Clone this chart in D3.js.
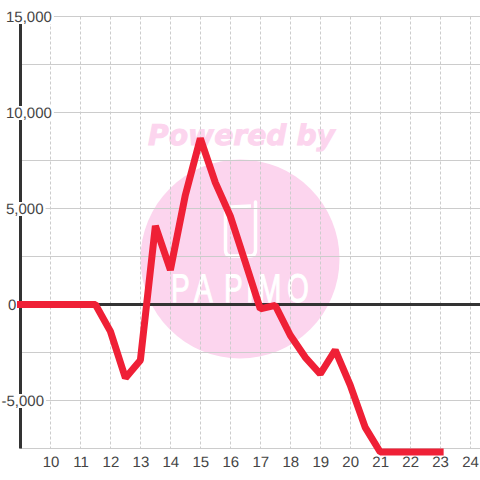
<!DOCTYPE html>
<html lang="en">
  <head>
    <meta charset="UTF-8" />
    <title>Chart</title>
    <style>
  html, body { margin: 0; padding: 0; background: #fff; }
  svg { display: block; }
  text { font-family: "Liberation Sans", sans-serif; text-rendering: geometricPrecision; }
</style>
  </head>
  <body>
<div class="chart"></div>
<script src="https://cdn.jsdelivr.net/npm/d3@7"></script>
<script>

// half hour steps
var hours = [9, 9.5, 10, 10.5, 11, 11.5, 12, 12.5, 13, 13.5, 14, 14.5, 15, 15.5, 16, 16.5, 17, 17.5, 18, 18.5, 19, 19.5, 20, 20.5, 21, 21.5, 22, 22.5, 23];
var values = [0, 0, 0, 0, 0, 0, -1400, -3830, -2900, 4090, 1800, 5700, 8650, 6350, 4600, 2200, -230, -50, -1600, -2750, -3620, -2370, -4200, -6400, -7680, -7680, -7680, -7680, -7680];

var xTicks = [10, 11, 12, 13, 14, 15, 16, 17, 18, 19, 20, 21, 22, 23, 24];
var yMajor = [15000, 10000, 5000, 0, -5000];
var yMinor = [12500, 7500, 2500, -2500, -7500];

var width = 480;
var height = 480;

var x = d3.scaleLinear().domain([9, 24.33]).range([20.5, 480]);
var y = d3.scaleLinear().domain([-7500, 15000]).range([448.5, 16.5]);

var svg = d3.select(".chart")
  .append("svg")
  .attr("width", width)
  .attr("height", height);

// watermark
var mark = svg.append("g").attr("id", "watermark");
mark.append("circle")
  .attr("cx", 240)
  .attr("cy", 259)
  .attr("r", 99.5)
  .attr("fill", "#fcd5ee");
mark.append("text")
  .attr("x", 148)
  .attr("y", 144.5)
  .attr("font-size", 28.5)
  .attr("font-weight", "bold")
  .attr("font-style", "italic")
  .attr("textLength", 187)
  .attr("lengthAdjust", "spacingAndGlyphs")
  .style("font-family", "DejaVu Sans")
  .attr("fill", "#fcd5ee")
  .attr("stroke", "#fcd5ee")
  .attr("stroke-width", 0.9)
  .text("Powered by");
mark.append("path")
  .attr("d", "M225.5 213 V250 Q225.5 256 231 256 H250 Q255.5 256 255.5 250 V202")
  .attr("fill", "none")
  .attr("stroke", "#fff")
  .attr("stroke-width", 3.5)
  .attr("stroke-linecap", "round");
mark.append("path")
  .attr("d", "M225.5 213 Q225.5 207 231 207 L251 206")
  .attr("fill", "none")
  .attr("stroke", "#fff")
  .attr("stroke-width", 3.5);
// logo lettering, squeezed sideways
mark.append("text")
  .attr("transform", "scale(0.7,1)")
  .attr("x", [171, 194, 224, 246, 258, 287].map(function(d){ return d / 0.7; }).join(" "))
  .attr("y", 302)
  .attr("font-size", 40)
  .attr("fill", "#fff")
  .attr("stroke", "#fff")
  .attr("stroke-width", 1)
  .text("PAPIMO");

// grid
var grid = svg.append("g").attr("id", "grid");
grid.selectAll("line.v")
  .data(xTicks)
  .enter()
  .append("line")
  .attr("class", "v")
  .attr("x1", function(d){ return Math.round(x(d)) + 0.5; })
  .attr("x2", function(d){ return Math.round(x(d)) + 0.5; })
  .attr("y1", y(15000))
  .attr("y2", y(-7500))
  .attr("stroke", "#ccc")
  .attr("stroke-dasharray", "3,2");
grid.selectAll("line.h")
  .data(yMajor.concat(yMinor))
  .enter()
  .append("line")
  .attr("class", "h")
  .attr("x1", 20)
  .attr("x2", width)
  .attr("y1", function(d){ return y(d); })
  .attr("y2", function(d){ return y(d); })
  .attr("stroke", "#ccc")
  .attr("stroke-width", 1.2);

// axis lines
svg.append("line")
  .attr("x1", x(9))
  .attr("x2", x(9))
  .attr("y1", y(15000))
  .attr("y2", y(-7500))
  .attr("stroke", "#333")
  .attr("stroke-width", 3);
svg.append("line")
  .attr("x1", x(9))
  .attr("x2", width)
  .attr("y1", y(0))
  .attr("y2", y(0))
  .attr("stroke", "#333")
  .attr("stroke-width", 3);

// y labels sit on white boxes that cut the axis
var fmt = d3.format(",");
var yLabels = svg.append("g").attr("id", "y-labels");
yMajor.forEach(function(d){
  var g = yLabels.append("g");
  var bg = g.append("rect").attr("fill", "#fff");
  var t = g.append("text")
    .attr("x", d == -5000 ? 1.5 : (d == 0 ? 8 : 6))
    .attr("y", y(d))
    .attr("dy", "0.36em")
    .attr("font-size", 15)
    .attr("fill", "#444")
    .text(fmt(d).replace("−", "-"));
  var b = t.node().getBBox();
  bg.attr("x", b.x)
    .attr("y", y(d) - 6.5)
    .attr("width", b.width + 2)
    .attr("height", 14);
});

// x labels
svg.append("g")
  .selectAll("text")
  .data(xTicks)
  .enter()
  .append("text")
  .attr("x", function(d){ return x(d) + 0.5; })
  .attr("y", 466.5)
  .attr("text-anchor", "middle")
  .attr("font-size", 15)
  .attr("fill", "#444")
  .text(function(d){ return d; });

// series
var line = d3.line()
  .x(function(d, i){ return x(hours[i]); })
  .y(function(d){ return y(d); });

svg.append("path")
  .datum(values)
  .attr("d", line)
  .attr("fill", "none")
  .attr("stroke", "#ef2036")
  .attr("stroke-width", 7)
  .attr("stroke-linecap", "square")
  .attr("stroke-linejoin", "bevel");

</script>
  </body>
</html>
